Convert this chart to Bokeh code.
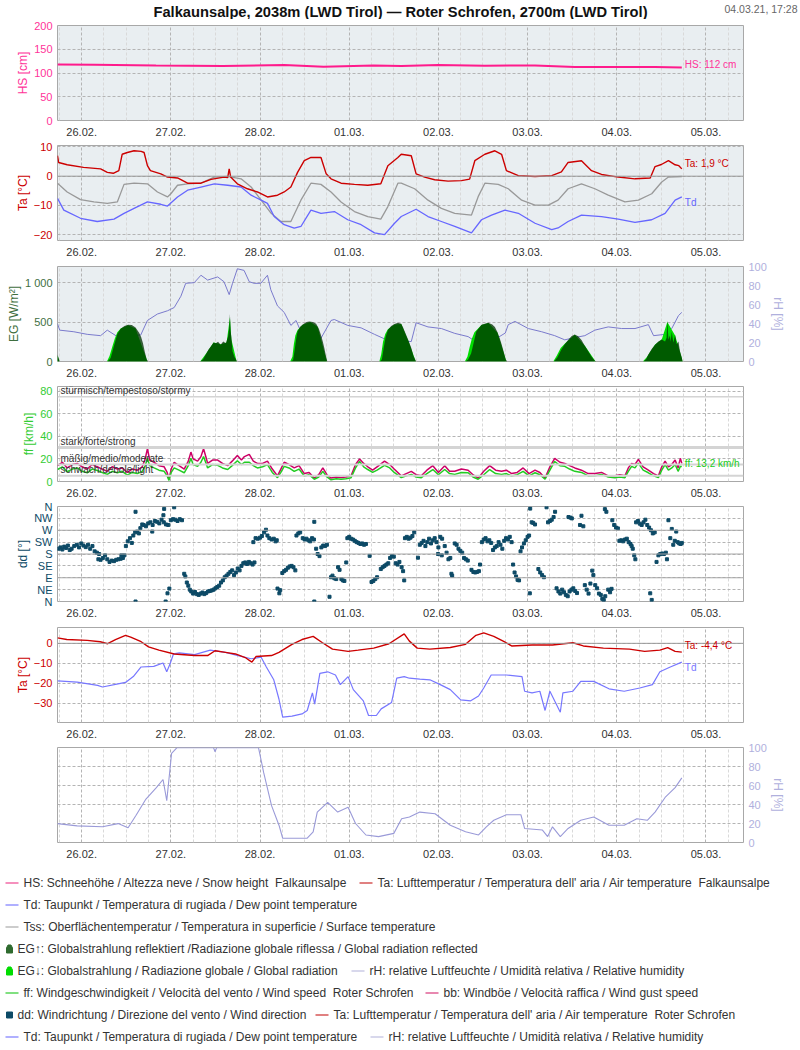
from bokeh.plotting import figure
from bokeh.layouts import column
from bokeh.models import Range1d, FixedTicker, LinearAxis, Label, Span
from bokeh.embed import file_html
from bokeh.resources import INLINE
from bokeh.core.properties import value

FONT = "Liberation Sans"

# ---------------- data (hours after 25.02. 17:28, value) ----------------
DAY_TICKS = [0, 24, 48, 72, 96, 120, 144, 168]
DAY_LABELS = ["26.02.", "27.02.", "28.02.", "01.03.", "02.03.", "03.03.", "04.03.", "05.03."]

HS = [(0, 118), (10, 117.5), (26.5, 116), (44.5, 114.7), (61, 116.7), (71.6, 113.3), (85, 116),
      (92.5, 114.7), (102.4, 116.7), (115, 115.5), (128.5, 116), (139.2, 112.6), (150, 112.5),
      (160.8, 112.5), (168, 111.5)]

TA_FALK = [(0, 7), (0.3, 4.7), (2.6, 3.9), (7, 3.0), (11.6, 2.5), (13.4, 1.3), (15, 1.0), (16.5, 1.9),
           (17.4, 7.5), (18.8, 8.1), (20.6, 8.7), (22.5, 8.5), (23.3, 8.1), (24.2, 3.6), (25, 1.9),
           (27.8, 0.8), (29.6, -0.3), (32.3, -0.6), (35, -2.4), (38.6, -2.4), (41.3, -1.1), (44.8, -0.3),
           (45.8, -0.5), (46.2, 2.5), (46.6, -0.3), (48.4, -2.6), (51.1, -4.3), (53.8, -5.4), (56.5, -7.1),
           (59.2, -6.5), (61, -5.4), (62.8, -3.7), (64.6, 1.3), (66.4, 5.3), (68.2, 6.4), (70.9, 6.4),
           (72.3, 0.8), (73.6, -0.9), (76.3, -2.4), (79.9, -2.8), (83.5, -3.1), (87, -2.6), (88.9, 3.6),
           (91.6, 6.4), (92.5, 7.5), (95.2, 7.0), (96.5, 0.8), (98.8, -0.3), (101.5, -1.2), (105.1, -1.7),
           (108.7, -1.5), (110.9, -1.0), (112.3, 5.3), (115, 7.5), (117.7, 8.7), (119.5, 7.5), (120.8, 1.9),
           (124, 0.2), (128.5, -0.1), (133, 0.2), (135.6, 1.5), (137.4, 4.7), (141, 5.3), (143.7, 1.9),
           (146.4, 0.6), (150.9, -0.3), (155.4, -0.9), (159.5, -0.6), (160.8, 3.3), (162.5, 4.0),
           (164.4, 5.3), (166.2, 3.9), (167.2, 3.6), (168, 2.5)]

TSS_FALK = [(0, -2.4), (2.6, -5.4), (6.2, -8.0), (9.8, -8.8), (13.4, -9.3), (16.1, -8.8), (17.9, -2.8),
            (20.6, -2.4), (24.2, -2.6), (26.9, -5.4), (29.6, -7.1), (30.5, -6.0), (32.3, -3.1), (35, -2.6),
            (38.6, -2.4), (42.2, -0.3), (45.8, -0.1), (49.4, -0.9), (52.1, -3.7), (54.8, -8.2), (57.5, -12.7),
            (60.1, -15.5), (62.8, -15.5), (65.5, -8.2), (68.2, -2.4), (70.9, -2.8), (73.6, -5.4), (76.3, -8.8),
            (79.9, -12.1), (83.5, -13.8), (87, -14.7), (88.9, -10.4), (91.6, -2.4), (92.5, -2.4), (96.1, -4.3),
            (99.7, -8.2), (103.3, -11.0), (106.9, -12.7), (111.4, -13.3), (113.2, -7.0), (115, -2.4),
            (118.6, -2.8), (121.3, -4.3), (124.9, -8.2), (128.5, -9.9), (132.1, -9.9), (134.7, -8.2),
            (137.4, -4.3), (141, -2.6), (144.6, -4.3), (148.2, -6.5), (152.7, -8.8), (156.3, -8.2),
            (159.9, -6.0), (162.6, -2.0), (164.4, -0.3), (168, -0.1)]

TD_FALK = [(0, -7.6), (1.7, -11.6), (6.2, -14.4), (10.7, -15.5), (15.2, -14.7), (17.9, -12.7), (20.6, -11.0),
           (24.2, -8.8), (27.8, -9.6), (29.6, -10.2), (32.3, -7.1), (35, -4.8), (38.6, -3.7), (42.2, -2.6),
           (45.8, -3.1), (49.4, -3.7), (52.1, -6.5), (54.8, -8.2), (56.5, -9.3), (58.3, -13.8), (61, -16.6),
           (63.7, -17.8), (65.5, -17.2), (68.2, -11.6), (70.9, -12.7), (74.5, -12.1), (78.1, -14.9),
           (81.7, -16.6), (85.3, -19.4), (88, -20.0), (90.7, -16.1), (92.5, -13.8), (96.5, -11.3),
           (99.7, -13.8), (103.3, -15.5), (106.9, -17.2), (111.4, -19.4), (114.1, -14.9), (116.8, -13.3),
           (120.4, -11.6), (124, -12.7), (128.5, -16.1), (133, -18.3), (134.7, -17.7), (137.4, -15.5),
           (141, -13.3), (146.4, -13.8), (150.9, -14.7), (155.4, -15.8), (159.9, -14.9), (163.5, -12.7),
           (166.2, -8.2), (168, -7.1)]

RH_FALK = [(0, 39.8), (0.6, 33), (4.4, 31.3), (8, 28.6), (11.6, 27.2), (13.4, 33), (16.1, 26.2), (18.8, 27),
           (22.4, 27.9), (24.2, 43.2), (26.9, 50), (29.6, 53.4), (31.4, 56.8), (33.2, 68.7), (34.5, 82.3),
           (36.8, 83), (38.6, 90.8), (40.4, 85.7), (43.1, 89), (44.8, 84), (46.2, 70.4), (47.1, 82.3),
           (48.4, 97.6), (50.2, 95.9), (51.6, 84), (52.9, 82.3), (54.7, 82.3), (56.5, 90.8), (57.4, 75.5),
           (59.2, 58.5), (61, 51.7), (62.8, 38), (64.2, 43.2), (65.5, 31.3), (68.2, 29.6), (70.9, 24.5),
           (73.6, 43.2), (74.5, 44.2), (78.1, 38), (81.7, 35.4), (85.3, 28.6), (88, 23.8), (90, 22),
           (95.2, 21), (96.5, 40.8), (99.7, 36.4), (103.3, 34.7), (106.9, 29.6), (110.5, 26.2), (111.8, 22.8),
           (114, 22), (118, 24), (120.5, 30), (121.3, 38.8), (123.1, 42.2), (126.7, 34.7), (130.3, 31.3),
           (133.8, 27.2), (136.5, 22.8), (139.2, 25.2), (141.9, 27.2), (144.6, 33), (148.2, 36.4),
           (151.8, 34.7), (155.4, 34.7), (159, 38.8), (160.4, 27.2), (163.5, 28.6), (165.3, 34.7),
           (167.1, 48.3), (168, 51.7)]

EG_REFL = [(0, 90), (0.6, 0), (13.5, 0), (14.3, 45), (15.2, 200), (16.1, 350), (17, 415), (18, 450), (19, 465),
           (20, 462), (21, 430), (22, 360), (22.5, 310), (23, 230), (23.5, 120), (24, 30), (24.4, 0),
           (38.4, 0), (39.2, 30), (39.9, 90), (40.6, 150), (41.3, 193), (42, 240), (42.6, 233), (43.2, 250),
           (43.9, 213), (44.6, 255), (45.3, 233), (45.9, 315), (46.2, 420), (46.4, 602), (46.6, 380),
           (46.8, 300), (47.1, 131), (47.6, 60), (48, 28), (48.3, 0),
           (62.8, 0), (63.4, 20), (63.8, 140), (64.2, 280), (64.6, 380), (65.3, 440), (66, 470), (67, 500),
           (67.8, 508), (68.7, 500), (69.6, 478), (70.3, 420), (70.9, 336), (71.4, 250), (71.8, 170),
           (72.2, 80), (72.6, 0),
           (86.8, 0), (87.3, 30), (87.8, 180), (88.3, 310), (88.9, 400), (89.8, 450), (90.7, 475), (91.6, 490),
           (92.5, 480), (93, 430), (93.8, 340), (94.5, 260), (95.2, 170), (95.8, 70), (96.5, 0),
           (109.8, 0), (110.5, 25), (111.3, 100), (111.8, 200), (112.7, 380), (114.1, 467), (115.9, 492),
           (117, 470), (117.7, 438), (118.4, 370), (119, 295), (119.5, 220), (119.9, 152), (120.6, 28), (121, 0),
           (133.6, 0), (134.5, 50), (135.6, 152), (136.5, 220), (137.4, 274), (138.3, 320), (139.2, 344),
           (140.1, 320), (141, 274), (141.9, 200), (142.8, 131), (143.7, 60), (144.6, 8), (145, 0),
           (157.7, 0), (158.4, 30), (159, 90), (159.9, 160), (160.8, 213), (161.7, 254), (162.6, 280),
           (163.5, 254), (163.9, 300), (164.1, 524), (164.4, 280), (164.8, 330), (165, 250), (165.3, 377),
           (165.7, 240), (166.2, 336), (166.6, 220), (167.1, 254), (167.5, 131), (168, 49), (168.2, 0)]

EG_GLOB = [(0, 80), (0.5, 0), (13.3, 0), (14.0, 70), (14.7, 180), (15.4, 290), (16.1, 370), (17, 420), (19, 460),
           (21, 420), (24.2, 0),
           (38.4, 0), (40, 100), (42, 240), (44, 220), (45.5, 240), (46.4, 560), (46.8, 280), (48.2, 0),
           (62.6, 0), (63.2, 60), (63.6, 220), (64.0, 330), (64.6, 400), (66, 465), (68, 500), (70, 440), (72.5, 0),
           (86.6, 0), (87.1, 90), (87.6, 250), (88.2, 350), (88.9, 410), (90.7, 470), (92.5, 475), (94.5, 250),
           (96.4, 0),
           (109.6, 0), (110.3, 60), (110.9, 180), (111.5, 290), (112.2, 370), (114.1, 462), (116, 488),
           (118.4, 365), (120.8, 0),
           (133.4, 0), (134.3, 70), (135.4, 170), (136.5, 225), (139.2, 340), (142, 195), (144.8, 0),
           (157.5, 0), (158.5, 50), (160.8, 215), (162.6, 278), (164.1, 500), (166.2, 330), (168, 45), (168.2, 0)]

FF = [(0, 10.6), (1.3, 13), (2.6, 8.6), (4, 11), (5.3, 12), (6.6, 9), (8, 7.7), (9.3, 11), (10.7, 9.7), (12, 8),
      (13.4, 6.3), (14.7, 9), (16.1, 7.7), (17.4, 9), (18.8, 5.7), (20.1, 8), (21.5, 7), (22.8, 9), (23.6, 14),
      (24.2, 20.6), (24.8, 14), (26, 12), (27.3, 10), (28.7, 9), (29.5, 5), (30, 1), (30.6, 8), (31.4, 12),
      (32.7, 10), (34.1, 7.7), (35.2, 14), (35.9, 20.6), (36.5, 15), (37.7, 13.4), (38.6, 17), (39.3, 22),
      (40, 16), (40.4, 12), (41.7, 15), (43.1, 14.3), (44.4, 12), (45.8, 10.6), (47, 14), (48.4, 18.3),
      (49.5, 15), (50.3, 17), (51.6, 17), (52.7, 14), (53.8, 12), (55.2, 13), (56.5, 14.9), (57.8, 8),
      (59.2, 3.4), (60.1, 8), (61, 13.4), (62.3, 12), (63.7, 9), (65, 11), (66.4, 4.9), (67.7, 6), (69.1, 2),
      (70.3, 4), (71.4, 9), (72.5, 4), (73.6, 1.5), (75, 2.5), (76.3, 2), (77.6, 2.5), (79, 3.4), (80.2, 12),
      (81.3, 17.7), (82.4, 13), (83.5, 10.6), (84.8, 8), (86, 10), (88, 14.3), (89.4, 12), (90.6, 8),
      (92.5, 3.4), (95.2, 6.3), (96.5, 4), (97.9, 3.4), (99.4, 7), (101, 10.6), (102.5, 6), (104.2, 10.6),
      (105.5, 7), (106.9, 6.3), (108.7, 8), (110.5, 7.7), (111.8, 4), (113.2, 2), (114.7, 6), (116.3, 10.6),
      (117.9, 7), (119.5, 6.3), (120.8, 7), (122.2, 4.9), (123.7, 6), (125.3, 9), (126.9, 5), (128.5, 7.7),
      (129.8, 6), (131.2, 2), (132.5, 10), (133.8, 17.7), (135.2, 14), (136.5, 13.4), (137.8, 11), (139.2, 9),
      (141, 8), (142.8, 4.9), (144.6, 5), (146.4, 6.3), (148.2, 4), (150, 3.4), (151.3, 4), (152.7, 3.4),
      (153.6, 9), (154.5, 13.4), (155.4, 12), (156.3, 16.3), (157.6, 10), (159, 7.7), (160.4, 5), (161.7, 3.4),
      (162.6, 10), (163.5, 14.9), (164.4, 10), (165.3, 12), (166.2, 15), (167, 9), (167.6, 13.4), (168, 13.2)]

BB = [(0, 14), (1.3, 17), (2.6, 12), (4, 15), (5.3, 16), (6.6, 13), (8, 11), (9.3, 15), (10.7, 13), (12, 11),
      (13.4, 9), (14.7, 13), (16.1, 11), (17.4, 12), (18.8, 8), (20.1, 11), (21.5, 10), (22.8, 13), (23.6, 20),
      (24.2, 29), (24.8, 19), (26, 17), (27.3, 14), (28.7, 13), (29.5, 8), (30, 2), (30.6, 11), (31.4, 17),
      (32.7, 14), (34.1, 11), (35.2, 18), (35.9, 26), (36.5, 20), (37.7, 18), (38.6, 22), (39.3, 29), (40, 21),
      (40.4, 16), (41.7, 19), (43.1, 19), (44.4, 16), (45.8, 14), (47, 18), (48.4, 23), (49.5, 19), (50.3, 22),
      (51.6, 24), (52.7, 18), (53.8, 16), (55.2, 16), (56.5, 18), (57.8, 11), (59.2, 5), (60.1, 11), (61, 17),
      (62.3, 15), (63.7, 12), (65, 14), (66.4, 7), (67.7, 8), (69.1, 3), (70.3, 6), (71.4, 12), (72.5, 6),
      (73.6, 3), (75, 4), (76.3, 3.5), (77.6, 4), (79, 5), (80.2, 15), (81.3, 20), (82.4, 16), (83.5, 13),
      (84.8, 10), (86, 13), (88, 18), (89.4, 15), (90.6, 11), (92.5, 5), (95.2, 9), (96.5, 6), (97.9, 5),
      (99.4, 10), (101, 14), (102.5, 8), (104.2, 14), (105.5, 9), (106.9, 9), (108.7, 11), (110.5, 10),
      (111.8, 6), (113.2, 3), (114.7, 9), (116.3, 14), (117.9, 10), (119.5, 9), (120.8, 10), (122.2, 7),
      (123.7, 8), (125.3, 12), (126.9, 7), (128.5, 10), (129.8, 8), (131.2, 3), (132.5, 13), (133.8, 20.5),
      (135.2, 17), (136.5, 16), (137.8, 14), (139.2, 12), (141, 10), (142.8, 7), (144.6, 7), (146.4, 8),
      (148.2, 5), (150, 5), (151.3, 6), (152.7, 5), (153.6, 12), (154.5, 16), (155.4, 15), (156.3, 19.5),
      (157.6, 13), (159, 10), (160.4, 7), (161.7, 5), (162.6, 13), (163.5, 18), (164.4, 13), (165.3, 15),
      (166.2, 19), (167, 12), (167.6, 20.5), (168, 16)]

FF_LEVELS = [75, 30, 15, 5]
FF_LEVEL_NAMES = ["stürmisch/tempestoso/stormy", "stark/forte/strong", "mäßig/medio/moderate", "schwach/debole/light"]

DD = [(0.3, 200), (0.8, 205), (1.3, 197), (1.8, 208), (2.3, 203), (2.8, 212), (3.3, 195), (3.8, 200), (4.5, 210),
      (5.2, 215), (5.8, 205), (6.4, 220), (7.0, 212), (7.6, 206), (8.2, 215), (8.8, 200), (9.4, 210), (10.0, 190),
      (10.6, 185), (11.2, 180), (11.0, 160), (11.6, 158), (12.2, 165), (12.8, 175), (13.4, 160), (14.0, 150),
      (14.6, 155), (15.2, 153), (15.8, 158), (16.4, 160), (17.0, 162), (17.6, 165), (17.2, 175), (18.0, 175),
      (18.4, 210), (18.9, 228), (19.5, 240), (20.0, 222), (20.4, 250), (20.9, 262), (21.4, 265), (21.9, 258),
      (22.3, 278), (22.8, 292), (23.2, 290), (21.0, 340), (21.0, 0), (23.8, 285), (24.4, 296), (25.0, 300),
      (25.6, 290), (26.2, 305), (26.8, 302), (27.4, 296), (28.0, 310), (28.6, 300), (29.2, 292), (29.8, 290),
      (25.5, 265), (28.7, 351), (28.5, 327), (29.1, 0), (29.6, 31), (30.1, 49), (30.5, 308), (31.1, 312),
      (31.7, 310), (32.3, 305), (32.9, 312), (33.5, 308), (31.4, 357),
      (34.1, 105), (34.4, 95), (34.8, 72), (35.2, 60), (35.6, 45), (36.0, 38), (36.5, 30), (37.0, 36), (37.5, 28),
      (38.0, 25), (38.5, 30), (39.0, 34), (39.5, 28), (40.0, 32), (40.5, 38), (41.0, 40), (41.5, 42), (42.0, 45),
      (42.5, 50), (43.0, 55), (43.5, 60), (44.0, 72), (44.5, 80), (45.0, 92), (45.5, 98), (46.0, 105),
      (46.5, 112), (47.0, 118), (47.5, 100), (48.0, 110), (48.5, 125), (49.0, 118), (49.5, 135), (50.0, 145),
      (50.5, 148), (51.0, 142), (51.5, 150), (52.0, 145), (52.5, 140), (53.0, 148),
      (52.7, 225), (53.3, 240), (53.9, 238), (54.5, 242), (55.0, 248), (55.6, 262), (56.1, 272), (56.5, 250),
      (57.0, 240), (57.6, 235), (58.2, 238), (58.7, 228), (59.0, 232), (59.2, 49), (59.7, 31), (59.9, 43),
      (60.5, 108), (61.0, 115), (61.5, 120), (62.0, 128), (62.5, 133), (63.0, 135), (63.5, 130), (64.0, 118),
      (64.3, 250), (64.8, 258), (65.3, 262), (66.0, 240), (66.5, 235), (67.0, 238), (67.5, 232), (68.0, 228),
      (68.5, 240), (69.0, 235), (69.1, 302), (69.1, 0), (69.6, 200), (70.0, 180), (70.5, 172), (71.0, 205),
      (71.5, 212), (72.0, 210), (72.5, 215), (73.2, 18), (73.6, 92), (74.0, 98), (74.5, 88), (75.0, 85),
      (75.5, 130), (75.9, 120), (76.4, 85), (76.8, 80), (77.2, 78), (77.7, 148), (78.0, 240), (78.5, 245),
      (79.0, 238), (79.5, 235), (80.0, 230), (80.5, 225), (81.0, 222), (81.5, 218), (82.0, 220), (82.5, 215),
      (83.0, 218), (84.0, 173), (84.5, 74), (85.0, 78), (85.5, 85), (86.0, 92), (87.0, 123), (87.5, 130),
      (88.0, 135), (88.5, 140), (89.0, 145), (89.5, 165), (90.0, 172), (90.5, 170), (91.0, 145), (91.5, 140),
      (92.0, 150), (92.6, 130), (93.0, 115), (93.3, 80), (93.5, 240), (94.0, 245), (94.5, 238), (95.0, 242),
      (95.5, 248), (96.0, 262), (97.0, 166), (97.5, 215), (98.0, 222), (98.5, 230), (99.0, 210), (99.5, 225),
      (100.0, 238), (100.5, 220), (101.0, 232), (101.5, 240), (102.0, 225), (102.5, 205), (103.0, 245),
      (103.5, 238), (102.4, 180), (103.4, 175), (104.2, 210), (104.7, 185), (105.2, 160), (105.7, 165),
      (106.0, 105), (106.2, 98), (106.9, 220), (107.4, 215), (107.9, 200), (108.4, 192), (108.9, 185),
      (109.4, 165), (109.9, 160), (110.4, 155), (111.4, 120), (111.9, 112), (112.4, 110), (112.9, 112),
      (113.4, 115), (113.7, 140), (114.2, 225), (114.7, 235), (115.2, 240), (115.7, 228), (116.2, 232),
      (116.7, 222), (117.2, 195), (117.7, 205), (118.2, 210), (118.7, 225), (119.2, 215), (119.7, 200),
      (120.2, 230), (120.7, 240), (121.2, 235), (121.7, 245), (122.2, 225), (122.6, 140), (123.0, 110),
      (123.4, 95), (123.8, 82), (124.2, 80), (124.6, 190), (125.0, 205), (125.5, 220), (126.0, 232),
      (126.5, 245), (126.9, 250), (127.1, 31), (127.2, 352), (127.6, 300), (128.0, 298), (128.5, 292),
      (129.4, 123), (129.9, 110), (130.4, 100), (130.9, 92), (131.6, 357), (132.0, 300), (132.5, 305),
      (133.0, 310), (133.5, 320), (133.9, 340), (134.3, 50), (134.8, 38), (135.3, 30), (135.8, 45), (136.3, 35),
      (136.8, 25), (137.3, 20), (137.8, 38), (138.3, 45), (138.8, 50), (139.3, 40), (139.8, 32), (137.5, 320),
      (138.0, 318), (138.4, 315), (140.6, 290), (141.0, 325), (141.5, 285), (141.9, 62), (142.4, 45),
      (142.9, 30), (143.4, 68), (143.9, 117), (144.2, 100), (144.7, 62), (145.2, 50), (145.7, 30), (146.2, 25),
      (146.6, 10), (147.0, 6), (147.4, 20), (147.3, 350), (147.7, 340), (148.2, 45), (148.7, 35), (149.1, 48),
      (149.3, 308), (149.8, 290), (150.3, 280), (150.8, 277), (151.2, 230), (151.7, 232), (152.2, 228),
      (152.7, 235), (153.2, 238), (153.7, 225), (154.2, 218), (154.5, 210), (154.8, 200), (155.2, 175),
      (155.5, 160), (155.7, 300), (156.2, 305), (156.7, 295), (157.2, 290), (157.7, 300), (158.2, 310),
      (158.7, 290), (159.2, 280), (159.7, 270), (160.2, 258), (160.7, 262), (159.5, 31), (159.9, 6),
      (161.2, 150), (161.7, 175), (162.2, 180), (162.7, 182), (163.2, 180), (163.7, 185), (164.0, 160),
      (164.4, 308), (164.9, 240), (165.3, 275), (165.7, 215), (166.1, 230), (166.5, 265), (166.9, 225),
      (167.3, 220), (167.7, 218), (168.0, 222)]

TA_ROT = [(0, 2.7), (2.5, 1.9), (8, 1.5), (11.5, 0.8), (13.5, -0.2), (15.6, 1.9), (18.3, 4.0), (19.7, 3.1),
          (22.5, 0.8), (24.5, -1.8), (27.3, -3.4), (31.4, -5.3), (36.9, -6.1), (40.4, -6.1), (42.4, -3.7),
          (45.2, -4.5), (47.9, -5.3), (50.7, -7.3), (52.3, -9.4), (53.4, -6.6), (57.6, -6.1), (59.6, -4.5),
          (63.1, -0.5), (65.8, 1.9), (68.8, 3.5), (71.3, 0.3), (74, -2.9), (78.2, -4.0), (80.9, -3.4),
          (85.1, -2.4), (89.2, -0.2), (93.3, 4.7), (94.7, 1.1), (96.8, -2.4), (100.2, -2.9), (105.7, -2.1),
          (109.8, -0.5), (112.6, 4.0), (114.7, 5.2), (117.4, 3.5), (120.2, 0.8), (122.2, -1.3), (127.7, -0.8),
          (133.2, -0.8), (138.7, 0.3), (141.5, -1.3), (146.9, -2.4), (153.9, -2.9), (158, -4.0), (162.1, -3.4),
          (164.2, -2.1), (166.2, -4.0), (168, -4.4)]

TD_ROT = [(0, -18.7), (5.3, -19.4), (10.8, -21.0), (12.1, -21.8), (16.3, -20.2), (18.3, -19.5), (20.4, -16.6),
          (22.5, -11.8), (25.9, -11.5), (28.4, -9.8), (29.4, -14.2), (30.3, -10.2), (31.2, -5.3), (32.8, -4.8),
          (36.9, -5.6), (41.1, -3.4), (45.2, -4.5), (48.6, -6.1), (52.1, -7.7), (54.8, -6.9), (56.2, -11.8),
          (58.2, -18.2), (59.6, -27.9), (60.6, -36.8), (63.1, -36.3), (65.8, -35.2), (67.2, -33.5), (68.6, -24.7),
          (69.2, -30.3), (70.6, -15.0), (72.7, -14.2), (74.8, -15.8), (76.1, -20.6), (78.2, -16.6), (79.6, -23.1),
          (82.3, -28.7), (83.7, -36.0), (85.8, -36.0), (87.1, -32.7), (89.9, -29.5), (91.3, -17.4), (93.3, -16.6),
          (94.7, -17.4), (97.5, -17.9), (100.2, -18.2), (103, -20.6), (105.7, -23.1), (108.5, -28.2),
          (111.2, -28.7), (113.3, -26.3), (114.7, -22.3), (116.7, -15.8), (120.8, -15.8), (125, -16.6),
          (125.7, -23.9), (127.7, -24.7), (129.8, -23.9), (131.2, -33.5), (132.5, -23.9), (135.3, -34.4),
          (136, -24.7), (138.7, -23.9), (140.8, -19.0), (144.3, -19.0), (148.4, -22.7), (152.5, -23.9),
          (156.7, -22.3), (160.1, -20.6), (162.1, -14.2), (164.9, -11.8), (168, -9.4)]

RH_ROT = [(0, 19.9), (5.3, 17.5), (12.1, 16.5), (16.3, 19.9), (19, 15.5), (21.1, 28.5), (23.8, 45.7), (26.6, 57.7),
          (28.4, 66.3), (29.4, 44), (30.7, 93.8), (32.1, 99.7), (42, 99.7), (42.4, 95.5), (42.8, 99.7), (54.1, 99.7),
          (55.5, 73.2), (57.6, 38.8), (59.6, 18.2), (60.6, 4.5), (67.2, 4.5), (68.8, 11.3), (69.9, 32), (72.7, 42.3),
          (75.4, 32), (78.2, 37.1), (80.2, 20), (83, 7.9), (86.4, 6.2), (90.5, 9.6), (92.6, 25), (94.7, 26.8),
          (97.5, 32), (101.6, 30.2), (105.7, 18.2), (109.8, 11.3), (113.3, 7.9), (115.4, 16.5), (117.4, 23.4),
          (120.8, 29.2), (124.7, 29.2), (125.7, 14.8), (130.5, 13.1), (131.9, 6.2), (133.2, 16.5), (135.3, 6.2),
          (137.4, 14.8), (140.8, 23.4), (144.3, 26.8), (148.4, 18.2), (152.5, 18.2), (155.9, 25), (158.7, 23.4),
          (160.8, 32), (163.5, 47.4), (166.2, 57.7), (168, 68)]

# ---------------- styling ----------------
X0 = -6.5                      # 25.02. 17:28 relative to 26.02. 00:00 (hours)
X_RANGE = (-6.5, 178.1)
SIX_HOURS = [t for t in range(-6, 180, 6) if t % 24]
W = 800
FRAME_H = 98
BG = "#e9eef1"
GRID = "#b4b4b4"
MINOR = "#d9d9d9"

HS_COL = "#ff1a8c"
TA_COL = "#cc0000"
TD_COL = "#6666ff"
TSS_COL = "#999999"
EG_AX = "#3f6f3f"
EG_REFL_COL = "#003200"
EG_GLOB_COL = "#00dd00"
RH_LINE = "#7a7acc"
RH_AX = "#b0b0dd"
FF_COL = "#22cc22"
BB_COL = "#cc0066"
DD_COL = "#0d4a66"


def X(pairs):
    return [h + X0 for h, _ in pairs]


def Y(pairs):
    return [v for _, v in pairs]


def style_y(ax, color, label, ticks, overrides=None):
    ax.ticker = FixedTicker(ticks=ticks)
    if overrides:
        ax.major_label_overrides = overrides
    ax.axis_label = label
    ax.axis_label_text_color = color
    ax.axis_label_text_font = FONT
    ax.axis_label_text_font_style = "normal"
    ax.axis_label_text_font_size = "12px"
    ax.axis_label_standoff = 1
    ax.major_label_text_color = color
    ax.major_label_text_font = FONT
    ax.major_label_text_font_size = "11px"
    ax.major_label_standoff = 5
    ax.major_tick_line_color = None
    ax.minor_tick_line_color = None
    ax.major_tick_out = 0
    ax.major_tick_in = 0
    ax.axis_line_color = None


def panel(top, bottom, yr, bg, y_loc="left"):
    p = figure(width=W, height=top + FRAME_H + bottom, x_range=Range1d(*X_RANGE), y_range=Range1d(*yr),
               output_backend="svg", toolbar_location=None, min_border_left=57, min_border_right=57,
               min_border_top=top, min_border_bottom=bottom, y_axis_location=y_loc)
    p.background_fill_color = bg
    p.border_fill_color = "white"
    p.outline_line_color = "#a8a8a8"
    xa = p.xaxis[0]
    xa.ticker = FixedTicker(ticks=DAY_TICKS, minor_ticks=SIX_HOURS)
    xa.major_label_overrides = dict(zip(DAY_TICKS, DAY_LABELS))
    xa.major_label_text_font = FONT
    xa.major_label_text_font_size = "11px"
    xa.major_label_text_color = "#333333"
    xa.major_tick_line_color = None
    xa.minor_tick_line_color = None
    xa.major_tick_out = 0
    xa.major_tick_in = 0
    xa.axis_line_color = None
    xa.major_label_standoff = 3
    p.xgrid.grid_line_color = GRID
    p.xgrid.grid_line_dash = "3 2"
    p.xgrid.minor_grid_line_color = MINOR
    p.xgrid.minor_grid_line_dash = "3 2"
    p.ygrid.grid_line_color = GRID
    p.ygrid.grid_line_dash = "3 2"
    return p


def end_label(p, x, y, text, color, yoff=0, size="10px"):
    p.add_layout(Label(x=x + X0, y=y, x_offset=3, y_offset=yoff, text=text, text_color=color,
                       text_font=FONT, text_font_size=size, text_baseline="middle"))


# ---- header (title + date) ----
hd = figure(width=W, height=19, x_range=Range1d(0, W), y_range=Range1d(19, 0), output_backend="svg",
            toolbar_location=None, min_border_left=0, min_border_right=0, min_border_top=0, min_border_bottom=0,
            x_axis_type=None, y_axis_type=None)
hd.grid.visible = False
hd.outline_line_color = None
hd.text(x=[400], y=[11.5], text=["Falkaunsalpe, 2038m (LWD Tirol) \u2014 Roter Schrofen, 2700m (LWD Tirol)"],
        text_font=value(FONT), text_font_style="bold", text_font_size="14.7px", text_align="center",
        text_baseline="middle", text_color="#111111")
hd.text(x=[797], y=[8.5], text=["04.03.21, 17:28"], text_font=value(FONT), text_font_size="10.5px",
        text_align="right", text_baseline="middle", text_color="#666666")

# ---- panel 1: snow height ----
p1 = panel(6, 15, (0, 200), BG)
style_y(p1.yaxis[0], "#ff3399", "HS [cm]", [0, 50, 100, 150, 200])
p1.line(X(HS), Y(HS), line_color=HS_COL, line_width=2)
end_label(p1, HS[-1][0], HS[-1][1], "HS: 112 cm", "#ff3399", yoff=3)

# ---- panel 2: temperatures Falkaunsalpe ----
p2 = panel(7, 15, (-22.0, 10.5), BG)
style_y(p2.yaxis[0], TA_COL, "Ta [°C]", [-20, -10, 0, 10])
p2.add_layout(Span(location=0, dimension="width", line_color="#999999", line_width=1))
p2.line(X(TSS_FALK), Y(TSS_FALK), line_color=TSS_COL, line_width=1.3)
p2.line(X(TD_FALK), Y(TD_FALK), line_color=TD_COL, line_width=1.3)
p2.line(X(TA_FALK), Y(TA_FALK), line_color=TA_COL, line_width=1.4)
end_label(p2, TA_FALK[-1][0], TA_FALK[-1][1], "Ta: 1,9 °C", TA_COL, yoff=5)
end_label(p2, TD_FALK[-1][0], TD_FALK[-1][1], "Td", TD_COL, yoff=-6)

# ---- panel 3: radiation + humidity ----
p3 = panel(8, 15, (0, 1205), BG)
style_y(p3.yaxis[0], EG_AX, "EG [W/m²]", [0, 500, 1000], {1000: "1 000"})
p3.extra_y_ranges = {"rh": Range1d(0, 100)}
rax = LinearAxis(y_range_name="rh")
style_y(rax, RH_AX, "rH [%]", [0, 20, 40, 60, 80, 100])
p3.add_layout(rax, "right")
p3.line(X(RH_FALK), Y(RH_FALK), line_color=RH_LINE, line_width=1, y_range_name="rh")
p3.varea(x=X(EG_GLOB), y1=0, y2=Y(EG_GLOB), fill_color=EG_GLOB_COL)
p3.varea(x=X(EG_REFL), y1=0, y2=Y(EG_REFL), fill_color=EG_REFL_COL, fill_alpha=0.76)

# ---- panel 4: wind speed ----
p4 = panel(7, 15, (0, 84), "white")
style_y(p4.yaxis[0], "#33cc33", "ff [km/h]", [0, 20, 40, 60, 80])
for lev, name, lw in zip(FF_LEVELS, FF_LEVEL_NAMES, [1.5, 3, 2, 2]):
    p4.add_layout(Span(location=lev, dimension="width", line_color="#d4d4d4", line_width=lw))
    p4.add_layout(Label(x=X_RANGE[0], y=lev, x_offset=3, y_offset=1, text=name, text_color="#333333",
                        text_font=FONT, text_font_size="10px", text_baseline="bottom"))
p4.line(X(BB), Y(BB), line_color=BB_COL, line_width=1.5)
p4.line(X(FF), Y(FF), line_color=FF_COL, line_width=1.5)
end_label(p4, FF[-1][0], FF[-1][1], "ff: 13,2 km/h", FF_COL, yoff=3)

# ---- panel 5: wind direction ----
p5 = panel(7, 15, (0, 360), "white")
style_y(p5.yaxis[0], DD_COL, "dd [°]", [0, 45, 90, 135, 180, 225, 270, 315, 360],
        {0: "N", 45: "NE", 90: "E", 135: "SE", 180: "S", 225: "SW", 270: "W", 315: "NW", 360: "N"})
for lev in (90, 180, 270):
    p5.add_layout(Span(location=lev, dimension="width", line_color="#a8a8a8", line_width=1))
p5.scatter(X(DD), Y(DD), marker="square", size=3, color=DD_COL)

# ---- panel 6: temperatures Roter Schrofen ----
p6 = panel(8, 15, (-39.5, 7.9), "white")
style_y(p6.yaxis[0], TA_COL, "Ta [°C]", [-30, -20, -10, 0])
p6.add_layout(Span(location=0, dimension="width", line_color="#999999", line_width=1))
p6.line(X(TD_ROT), Y(TD_ROT), line_color="#7777ff", line_width=1.2)
p6.line(X(TA_ROT), Y(TA_ROT), line_color=TA_COL, line_width=1.4)
end_label(p6, TA_ROT[-1][0], TA_ROT[-1][1], "Ta: -4,4 °C", TA_COL, yoff=7)
end_label(p6, TD_ROT[-1][0], TD_ROT[-1][1], "Td", "#7777ff", yoff=-5)

# ---- panel 7: humidity Roter Schrofen ----
p7 = panel(7, 15, (0, 100), "white", y_loc="right")
style_y(p7.yaxis[0], RH_AX, "rH [%]", [0, 20, 40, 60, 80, 100])
p7.line(X(RH_ROT), Y(RH_ROT), line_color="#9a9ad8", line_width=1.1)

# ---- legend ----
LEG_ROWS = [22.5, 44.5, 66.5, 88.5, 110.5, 132.5, 154.5, 176.5]
LEGEND = [
    (0, "line", "#f590bd", "HS: Schneehöhe / Altezza neve / Snow height\u00a0 Falkaunsalpe"),
    (0, "line", "#e08080", "Ta: Lufttemperatur / Temperatura dell' aria / Air temperature\u00a0 Falkaunsalpe"),
    (1, "line", "#b0b0ff", "Td: Taupunkt / Temperatura di rugiada / Dew point temperature"),
    (2, "line", "#cccccc", "Tss: Oberflächentemperatur / Temperatura in superficie / Surface temperature"),
    (3, "area", "#2f6b2f", "EG\u2191: Globalstrahlung reflektiert /Radiazione globale riflessa / Global radiation reflected"),
    (4, "area", "#00dd00", "EG\u2193: Globalstrahlung / Radiazione globale / Global radiation"),
    (4, "line", "#d8d8ec", "rH: relative Luftfeuchte / Umidità relativa / Relative humidity"),
    (5, "line", "#80e080", "ff: Windgeschwindigkeit / Velocità del vento / Wind speed\u00a0 Roter Schrofen"),
    (5, "line", "#e888b0", "bb: Windböe / Velocità raffica / Wind gust speed"),
    (6, "square", "#0d4a66", "dd: Windrichtung / Direzione del vento / Wind direction"),
    (6, "line", "#e08080", "Ta: Lufttemperatur / Temperatura dell' aria / Air temperature\u00a0 Roter Schrofen"),
    (7, "line", "#b0b0ff", "Td: Taupunkt / Temperatura di rugiada / Dew point temperature"),
    (7, "line", "#d8d8ec", "rH: relative Luftfeuchte / Umidità relativa / Relative humidity"),
]
LEG_X = [5, 359, 5, 5, 5, 5, 351, 5, 425, 5, 315, 5, 370]

lg = figure(width=W, height=190, x_range=Range1d(0, W), y_range=Range1d(190, 0), output_backend="svg",
            toolbar_location=None, min_border_left=0, min_border_right=0, min_border_top=0, min_border_bottom=0,
            x_axis_type=None, y_axis_type=None)
lg.grid.visible = False
lg.outline_line_color = None
lg.background_fill_color = "white"
lg.border_fill_color = "white"
tx, ty, tt = [], [], []
for (row, kind, col, text), x0 in zip(LEGEND, LEG_X):
    y = LEG_ROWS[row]
    if kind == "line":
        lg.segment(x0=[x0], y0=[y], x1=[x0 + 13], y1=[y], line_color=col, line_width=2)
        tx.append(x0 + 18)
    elif kind == "area":
        lg.patch([x0 + 1, x0 + 1, x0 + 2.5, x0 + 5.5, x0 + 7, x0 + 7], [y + 4, y - 1, y - 4, y - 4, y - 1, y + 4],
                 fill_color=col, line_color=col)
        tx.append(x0 + 12)
    else:
        lg.rect(x=[x0 + 4], y=[y], width=6, height=6, fill_color=col, line_color=col)
        tx.append(x0 + 12)
    ty.append(y)
    tt.append(text)
lg.text(x=tx, y=ty, text=tt, text_font=value(FONT), text_font_size="12px", text_baseline="middle",
        text_color="#333333")

body = column(p1, p2, p3, p4, p5, p6, p7, spacing=0)
open("out.html", "w").write(file_html([hd, body, lg], INLINE))
